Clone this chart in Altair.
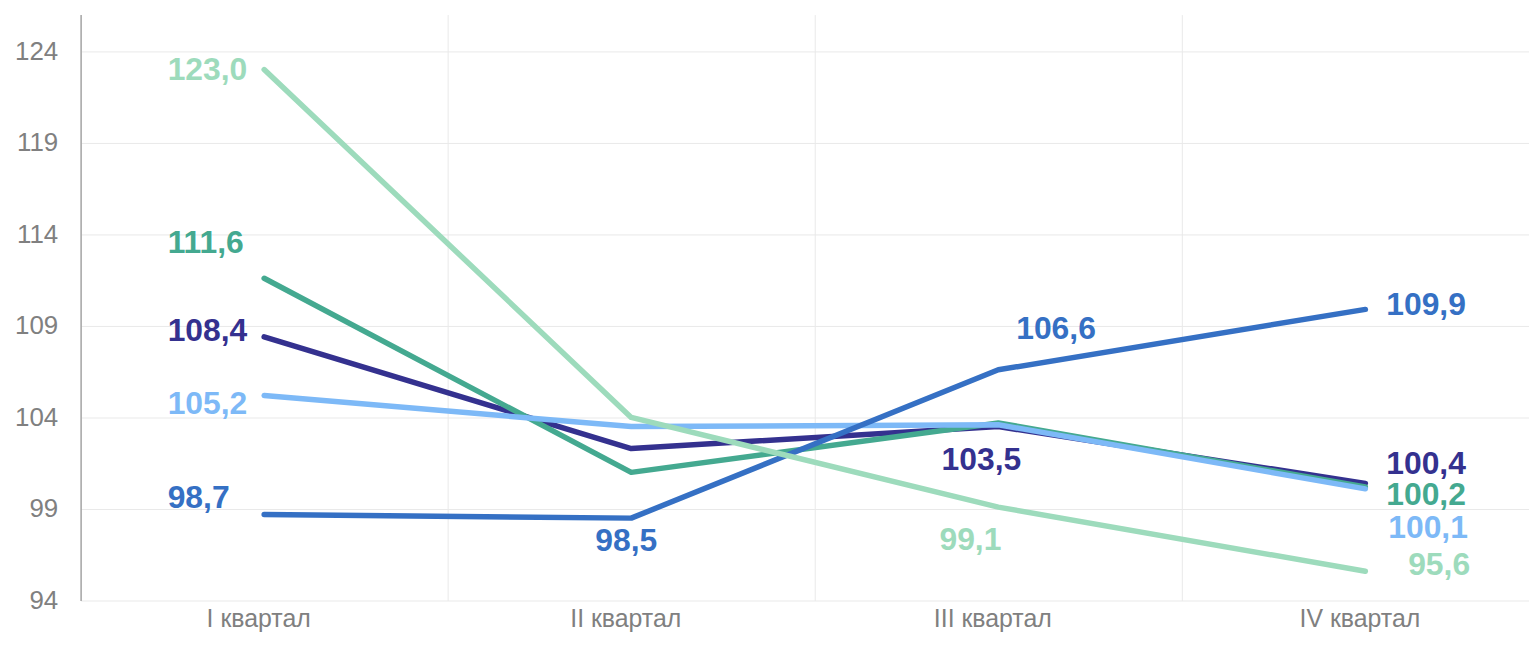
import altair as alt
import pandas as pd

QUARTERS = ["I квартал", "II квартал", "III квартал", "IV квартал"]

SERIES_NAMES = ["s_navy", "s_teal", "s_lightblue", "s_blue", "s_mint"]
NAVY = [108.4, 102.3, 103.5, 100.4]
TEAL = [111.6, 101.0, 103.7, 100.2]
LIGHTBLUE = [105.2, 103.5, 103.6, 100.1]
BLUE = [98.7, 98.5, 106.6, 109.9]
MINT = [123.0, 104.0, 99.1, 95.6]
SERIES_VALUES = [NAVY, TEAL, LIGHTBLUE, BLUE, MINT]

COLORS = {
    "s_navy": "#34318F",
    "s_teal": "#44A990",
    "s_lightblue": "#7DB9F7",
    "s_blue": "#3570C4",
    "s_mint": "#9DDBBC",
}

Y_TICKS = [94, 99, 104, 109, 114, 119, 124]

# label placement: (series, quarter index, align, dx, dy)
LABELS = [
    ("s_mint", 0, "left", -97, 1),
    ("s_teal", 0, "left", -97, -35),
    ("s_navy", 0, "left", -97, -6),
    ("s_lightblue", 0, "left", -97, 9),
    ("s_blue", 0, "left", -97, -17),
    ("s_blue", 1, "center", -5, 23),
    ("s_blue", 2, "left", 18, -41),
    ("s_navy", 2, "center", -17, 34),
    ("s_mint", 2, "center", -28, 33),
    ("s_blue", 3, "left", 21, -4),
    ("s_navy", 3, "left", 21, -19),
    ("s_teal", 3, "left", 21, 8),
    ("s_lightblue", 3, "left", 23, 39),
    ("s_mint", 3, "left", 43, -6),
]

rows = []
for name, vals in zip(SERIES_NAMES, SERIES_VALUES):
    for q, v in zip(QUARTERS, vals):
        rows.append({"series": name, "quarter": q, "value": v,
                     "label": f"{v:.1f}".replace(".", ",")})
df = pd.DataFrame(rows)

FONT = "Liberation Sans"

x_enc = alt.X(
    "quarter:N",
    sort=QUARTERS,
    scale=alt.Scale(type="band", paddingInner=0, paddingOuter=0, range=[0, 1476]),
    axis=alt.Axis(
        title=None, labelAngle=0, tickBand="extent", grid=True, gridColor="#e9e9e9",
        domain=False, ticks=False, labelFontSize=25, labelColor="#808080",
        labelFont=FONT, labelPadding=6, labelOffset=-6,
    ),
)
y_enc = alt.Y(
    "value:Q",
    scale=alt.Scale(domain=[94, 126], nice=False, zero=False),
    axis=alt.Axis(
        title=None, values=Y_TICKS, grid=True, gridColor="#e9e9e9", domain=True,
        domainColor="#a6a6a6", domainWidth=1.5, ticks=False, labelFontSize=26,
        labelColor="#808080", labelFont=FONT, labelPadding=23,
    ),
)

base = alt.Chart(df)
layers = []
draw_order = ["s_navy", "s_teal", "s_lightblue", "s_blue", "s_mint"]
for name in draw_order:
    layers.append(
        base.transform_filter(alt.datum.series == name)
        .mark_line(strokeWidth=5.5, strokeCap="round", strokeJoin="round", color=COLORS[name])
        .encode(x=x_enc, y=y_enc)
    )

for name, qi, align, dx, dy in LABELS:
    layers.append(
        base.transform_filter(
            (alt.datum.series == name) & (alt.datum.quarter == QUARTERS[qi])
        )
        .mark_text(align=align, baseline="middle", dx=dx, dy=dy, fontSize=32,
                   fontWeight="bold", font=FONT, color=COLORS[name])
        .encode(x=x_enc, y=y_enc, text="label:N")
    )

chart = (
    alt.layer(*layers)
    .properties(
        width=1456, height=589,
        autosize=alt.AutoSizeParams(type="none"),
        padding={"left": 73, "top": 5, "right": 0, "bottom": 31},
    )
    .configure_view(stroke=None)
)

chart.save("out.html", embed_options={"renderer": "svg", "actions": False})
